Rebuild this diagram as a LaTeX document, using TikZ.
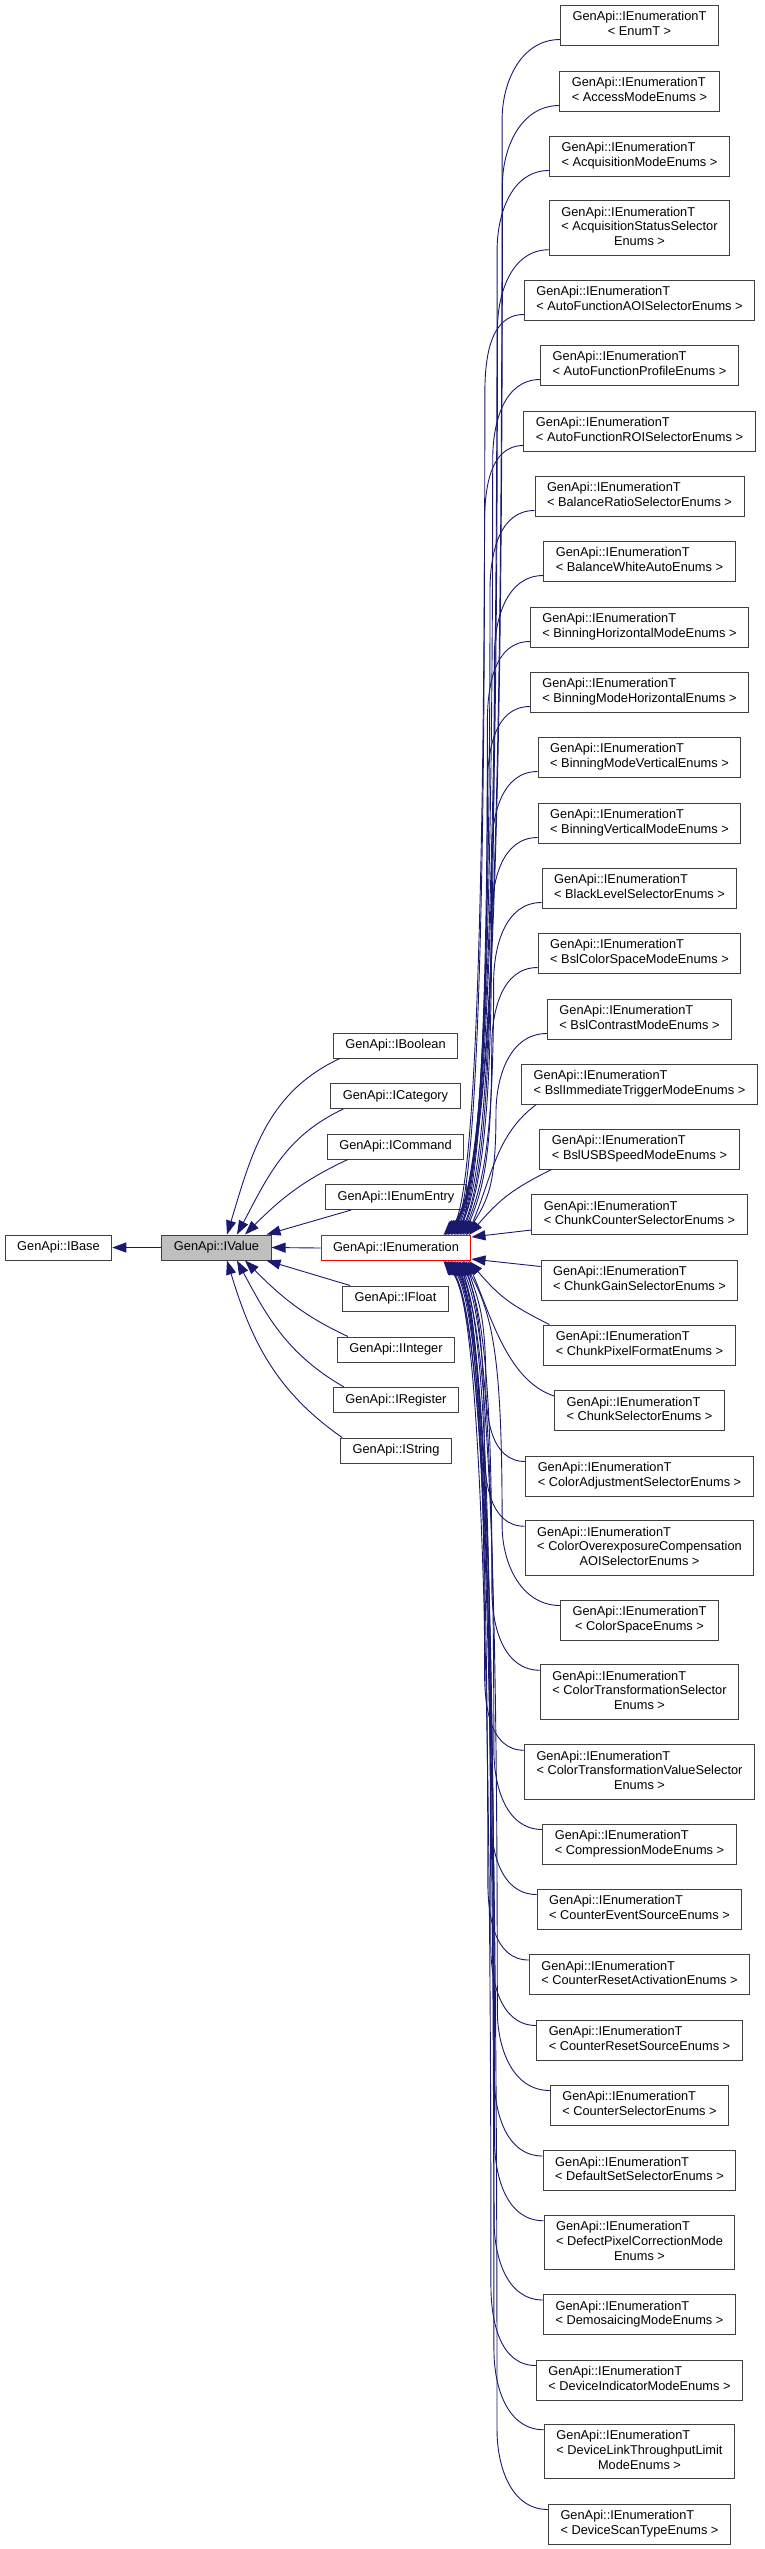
\documentclass[tikz,border=0pt]{standalone}
\usepackage{fontspec}
\setmainfont{Liberation Sans}
\usepackage{xcolor}
\usepackage{tikz}
\usetikzlibrary{arrows.meta}
\definecolor{EdgeBlue}{RGB}{25,25,112}
\definecolor{BoxGray}{RGB}{64,64,64}
\definecolor{ValueGray}{RGB}{191,191,191}
\definecolor{FocusRed}{RGB}{255,0,0}
\newcommand{\enumlabel}[1]{\begin{tabular}{@{}c@{}}\multicolumn{1}{@{}l@{}}{GenApi::IEnumerationT}\\#1\end{tabular}}

\begin{document}
\begin{tikzpicture}[
x=1pt,y=1pt,
cls/.style={
draw=BoxGray,
line width=1pt,
fill=white,
inner xsep=12pt,
inner ysep=0pt,
minimum height=25pt,
font=\fontsize{12.8}{14.7}\selectfont
},
cls2/.style={
cls,
minimum height=40pt
},
cls3/.style={
cls,
minimum height=54.5pt
},
inherit/.style={
draw=EdgeBlue,
line width=0.9pt,
-{Triangle[length=14pt,width=10pt]}
}
]

\fill[white] (0,0) rectangle (765,-2549);

\node[cls] (ibase) at (58.5,-1247.5) {GenApi::IBase};
\node[cls,fill=ValueGray] (ivalue) at (216.5,-1247.5) {GenApi::IValue};

\node[cls] (iboolean) at (395.5,-1045.5) {GenApi::IBoolean};
\node[cls] (icategory) at (395.5,-1096) {GenApi::ICategory};
\node[cls] (icommand) at (395.5,-1146.5) {GenApi::ICommand};
\node[cls] (ienumentry) at (396,-1197) {GenApi::IEnumEntry};
\node[cls,draw=FocusRed] (ienum) at (396,-1248) {GenApi::IEnumeration};
\node[cls] (ifloat) at (395.5,-1298.5) {GenApi::IFloat};
\node[cls] (iinteger) at (396,-1349.5) {GenApi::IInteger};
\node[cls] (iregister) at (396,-1400) {GenApi::IRegister};
\node[cls] (istring) at (396,-1450.5) {GenApi::IString};

\node[cls2] (t1) at (639.5,-25) {\enumlabel{< EnumT >}};
\node[cls2] (t2) at (639.5,-91) {\enumlabel{< AccessModeEnums >}};
\node[cls2] (t3) at (639.5,-156) {\enumlabel{< AcquisitionModeEnums >}};
\node[cls3] (t4) at (639.5,-228) {\enumlabel{< AcquisitionStatusSelector\\Enums >}};
\node[cls2] (t5) at (639.5,-300) {\enumlabel{< AutoFunctionAOISelectorEnums >}};
\node[cls2] (t6) at (639.5,-365) {\enumlabel{< AutoFunctionProfileEnums >}};
\node[cls2] (t7) at (639.5,-431) {\enumlabel{< AutoFunctionROISelectorEnums >}};
\node[cls2] (t8) at (639.5,-496) {\enumlabel{< BalanceRatioSelectorEnums >}};
\node[cls2] (t9) at (639.5,-561) {\enumlabel{< BalanceWhiteAutoEnums >}};
\node[cls2] (t10) at (639.5,-627) {\enumlabel{< BinningHorizontalModeEnums >}};
\node[cls2] (t11) at (639.5,-692) {\enumlabel{< BinningModeHorizontalEnums >}};
\node[cls2] (t12) at (639.5,-757) {\enumlabel{< BinningModeVerticalEnums >}};
\node[cls2] (t13) at (639.5,-823) {\enumlabel{< BinningVerticalModeEnums >}};
\node[cls2] (t14) at (639.5,-888) {\enumlabel{< BlackLevelSelectorEnums >}};
\node[cls2] (t15) at (639.5,-953) {\enumlabel{< BslColorSpaceModeEnums >}};
\node[cls2] (t16) at (639.5,-1019) {\enumlabel{< BslContrastModeEnums >}};
\node[cls2] (t17) at (639.5,-1084) {\enumlabel{< BslImmediateTriggerModeEnums >}};
\node[cls2] (t18) at (639.5,-1149) {\enumlabel{< BslUSBSpeedModeEnums >}};
\node[cls2] (t19) at (639.5,-1214.5) {\enumlabel{< ChunkCounterSelectorEnums >}};
\node[cls2] (t20) at (639.5,-1280) {\enumlabel{< ChunkGainSelectorEnums >}};
\node[cls2] (t21) at (639.5,-1345) {\enumlabel{< ChunkPixelFormatEnums >}};
\node[cls2] (t22) at (639.5,-1410.5) {\enumlabel{< ChunkSelectorEnums >}};
\node[cls2] (t23) at (639.5,-1476) {\enumlabel{< ColorAdjustmentSelectorEnums >}};
\node[cls3] (t24) at (639.5,-1548) {\enumlabel{< ColorOverexposureCompensation\\AOISelectorEnums >}};
\node[cls2] (t25) at (639.5,-1620) {\enumlabel{< ColorSpaceEnums >}};
\node[cls3] (t26) at (639.5,-1692) {\enumlabel{< ColorTransformationSelector\\Enums >}};
\node[cls3] (t27) at (639.5,-1772) {\enumlabel{< ColorTransformationValueSelector\\Enums >}};
\node[cls2] (t28) at (639.5,-1844) {\enumlabel{< CompressionModeEnums >}};
\node[cls2] (t29) at (639.5,-1909) {\enumlabel{< CounterEventSourceEnums >}};
\node[cls2] (t30) at (639.5,-1974.5) {\enumlabel{< CounterResetActivationEnums >}};
\node[cls2] (t31) at (639.5,-2040) {\enumlabel{< CounterResetSourceEnums >}};
\node[cls2] (t32) at (639.5,-2105) {\enumlabel{< CounterSelectorEnums >}};
\node[cls2] (t33) at (639.5,-2170.5) {\enumlabel{< DefaultSetSelectorEnums >}};
\node[cls3] (t34) at (639.5,-2242.5) {\enumlabel{< DefectPixelCorrectionMode\\Enums >}};
\node[cls2] (t35) at (639.5,-2314.5) {\enumlabel{< DemosaicingModeEnums >}};
\node[cls2] (t36) at (639.5,-2380) {\enumlabel{< DeviceIndicatorModeEnums >}};
\node[cls3] (t37) at (639.5,-2451.5) {\enumlabel{< DeviceLinkThroughputLimit\\ModeEnums >}};
\node[cls2] (t38) at (639.5,-2524) {\enumlabel{< DeviceScanTypeEnums >}};

\draw[inherit] (ivalue.west) -- (ibase.east);
\draw[inherit] ([xshift=7pt]iboolean.south west) to[out=205,in=73] ([xshift=10.5pt]ivalue.north);
\draw[inherit] ([xshift=13pt]icategory.south west) to[out=205,in=62] ([xshift=20.5pt]ivalue.north);
\draw[inherit] ([xshift=21pt]icommand.south west) to[out=205,in=45] ([xshift=28.5pt]ivalue.north);
\draw[inherit] ([xshift=26pt]ienumentry.south west) -- ([xshift=-5pt]ivalue.north east);
\draw[inherit] (ienum.west) -- (ivalue.east);
\draw[inherit] ([xshift=8pt]ifloat.north west) -- ([xshift=-5pt]ivalue.south east);
\draw[inherit] ([xshift=11pt]iinteger.north west) to[out=155,in=-45] ([xshift=28.5pt]ivalue.south);
\draw[inherit] ([xshift=11pt]iregister.north west) to[out=150,in=-62] ([xshift=20.5pt]ivalue.south);
\draw[inherit] ([xshift=2pt]istring.north west) to[out=145,in=-73] ([xshift=10.5pt]ivalue.south);

\draw[inherit] ([yshift=6pt]t1.south west) to[out=180,in=90] ++(-58,-80) .. controls +(0,-670) and +(51,55) .. ([xshift=-28pt]ienum.north east);
\draw[inherit] ([yshift=6pt]t2.south west) to[out=180,in=90] ++(-57,-80) .. controls +(0,-630) and +(48.5,55) .. ([xshift=-26.5pt]ienum.north east);
\draw[inherit] ([yshift=6pt]t3.south west) to[out=180,in=90] ++(-52,-80) .. controls +(0,-591) and +(42,55) .. ([xshift=-25pt]ienum.north east);
\draw[inherit] ([yshift=6pt]t4.south west) to[out=180,in=90] ++(-51.5,-80) .. controls +(0,-544) and +(40,55) .. ([xshift=-23.5pt]ienum.north east);
\draw[inherit] ([yshift=6pt]t5.south west) to[out=180,in=90] ++(-39,-80) .. controls +(0,-505) and +(26,55) .. ([xshift=-22pt]ienum.north east);
\draw[inherit] ([yshift=6pt]t6.south west) to[out=180,in=90] ++(-47.5,-80) .. controls +(0,-466) and +(33,55) .. ([xshift=-20.5pt]ienum.north east);
\draw[inherit] ([yshift=6pt]t7.south west) to[out=180,in=90] ++(-39,-80) .. controls +(0,-426) and +(23,55) .. ([xshift=-19pt]ienum.north east);
\draw[inherit] ([yshift=6pt]t8.south west) to[out=180,in=90] ++(-44.5,-80) .. controls +(0,-387) and +(27,55) .. ([xshift=-17.5pt]ienum.north east);
\draw[inherit] ([yshift=6pt]t9.south west) to[out=180,in=90] ++(-49,-80) .. controls +(0,-348) and +(30,55) .. ([xshift=-16pt]ienum.north east);
\draw[inherit] ([yshift=6pt]t10.south west) to[out=180,in=90] ++(-42.5,-80) .. controls +(0,-308) and +(22,55) .. ([xshift=-14.5pt]ienum.north east);
\draw[inherit] ([yshift=6pt]t11.south west) to[out=180,in=90] ++(-42.5,-80) .. controls +(0,-269) and +(20.5,55) .. ([xshift=-13pt]ienum.north east);
\draw[inherit] ([yshift=6pt]t12.south west) to[out=180,in=90] ++(-46,-80) .. controls +(0,-230) and +(22.5,55) .. ([xshift=-11.5pt]ienum.north east);
\draw[inherit] ([yshift=6pt]t13.south west) to[out=180,in=90] ++(-46,-80) .. controls +(0,-191) and +(21,55) .. ([xshift=-10pt]ienum.north east);
\draw[inherit] ([yshift=6pt]t14.south west) to[out=180,in=90] ++(-48,-80) .. controls +(0,-152) and +(21.5,55) .. ([xshift=-8.5pt]ienum.north east);
\draw[inherit] ([yshift=6pt]t15.south west) to[out=180,in=90] ++(-46,-80) .. controls +(0,-113) and +(18,45) .. ([xshift=-7pt]ienum.north east);
\draw[inherit] ([yshift=6pt]t16.south west) to[out=180,in=90] ++(-51,-80) .. controls +(0,-73) and +(21.5,35) .. ([xshift=-5.5pt]ienum.north east);
\draw[inherit] ([xshift=15pt]t17.south west) .. controls +(-40,-30) and +(25,60) .. ([xshift=-4pt]ienum.north east);
\draw[inherit] ([xshift=12pt]t18.south west) .. controls +(-40,-20) and +(30,35) .. ([xshift=-2.5pt]ienum.north east);
\draw[inherit] ([yshift=5pt]t19.south west) -- ([yshift=-2pt]ienum.north east);
\draw[inherit] ([yshift=-7pt]t20.north west) -- ([yshift=2pt]ienum.south east);
\draw[inherit] ([xshift=6pt]t21.north west) .. controls +(-40,20) and +(30,-35) .. ([xshift=-2.5pt]ienum.south east);
\draw[inherit] ([yshift=-6pt]t22.north west) .. controls +(-45,15) and +(25,-60) .. ([xshift=-4pt]ienum.south east);
\draw[inherit] ([yshift=-6pt]t23.north west) to[out=180,in=270] ++(-39.5,80) .. controls +(0,73) and +(10,-35) .. ([xshift=-5.5pt]ienum.south east);
\draw[inherit] ([yshift=-6pt]t24.north west) to[out=180,in=270] ++(-40.5,80) .. controls +(0,112) and +(12.5,-45) .. ([xshift=-7pt]ienum.south east);
\draw[inherit] ([yshift=-6pt]t25.north west) to[out=180,in=270] ++(-58,80) .. controls +(0,159) and +(31.5,-55) .. ([xshift=-8.5pt]ienum.south east);
\draw[inherit] ([yshift=-6pt]t26.north west) to[out=180,in=270] ++(-48,80) .. controls +(0,198) and +(23,-55) .. ([xshift=-10pt]ienum.south east);
\draw[inherit] ([yshift=-6pt]t27.north west) to[out=180,in=270] ++(-39.5,80) .. controls +(0,246) and +(16,-55) .. ([xshift=-11.5pt]ienum.south east);
\draw[inherit] ([yshift=-6pt]t28.north west) to[out=180,in=270] ++(-48.5,80) .. controls +(0,293) and +(26.5,-55) .. ([xshift=-13pt]ienum.south east);
\draw[inherit] ([yshift=-6pt]t29.north west) to[out=180,in=270] ++(-46,80) .. controls +(0,332) and +(25.5,-55) .. ([xshift=-14.5pt]ienum.south east);
\draw[inherit] ([yshift=-6pt]t30.north west) to[out=180,in=270] ++(-41,80) .. controls +(0,372) and +(22,-55) .. ([xshift=-16pt]ienum.south east);
\draw[inherit] ([yshift=-6pt]t31.north west) to[out=180,in=270] ++(-45.5,80) .. controls +(0,411) and +(28,-55) .. ([xshift=-17.5pt]ienum.south east);
\draw[inherit] ([yshift=-6pt]t32.north west) to[out=180,in=270] ++(-52.5,80) .. controls +(0,450) and +(36.5,-55) .. ([xshift=-19pt]ienum.south east);
\draw[inherit] ([yshift=-6pt]t33.north west) to[out=180,in=270] ++(-48.5,80) .. controls +(0,490) and +(34,-55) .. ([xshift=-20.5pt]ienum.south east);
\draw[inherit] ([yshift=-6pt]t34.north west) to[out=180,in=270] ++(-49,80) .. controls +(0,528) and +(36,-55) .. ([xshift=-22pt]ienum.south east);
\draw[inherit] ([yshift=-6pt]t35.north west) to[out=180,in=270] ++(-49,80) .. controls +(0,576) and +(37.5,-55) .. ([xshift=-23.5pt]ienum.south east);
\draw[inherit] ([yshift=-6pt]t36.north west) to[out=180,in=270] ++(-45,80) .. controls +(0,615) and +(35,-55) .. ([xshift=-25pt]ienum.south east);
\draw[inherit] ([yshift=-6pt]t37.north west) to[out=180,in=270] ++(-50,80) .. controls +(0,653) and +(41.5,-55) .. ([xshift=-26.5pt]ienum.south east);
\draw[inherit] ([yshift=-6pt]t38.north west) to[out=180,in=270] ++(-51,80) .. controls +(0,701) and +(44,-55) .. ([xshift=-28pt]ienum.south east);
\end{tikzpicture}
\end{document}
